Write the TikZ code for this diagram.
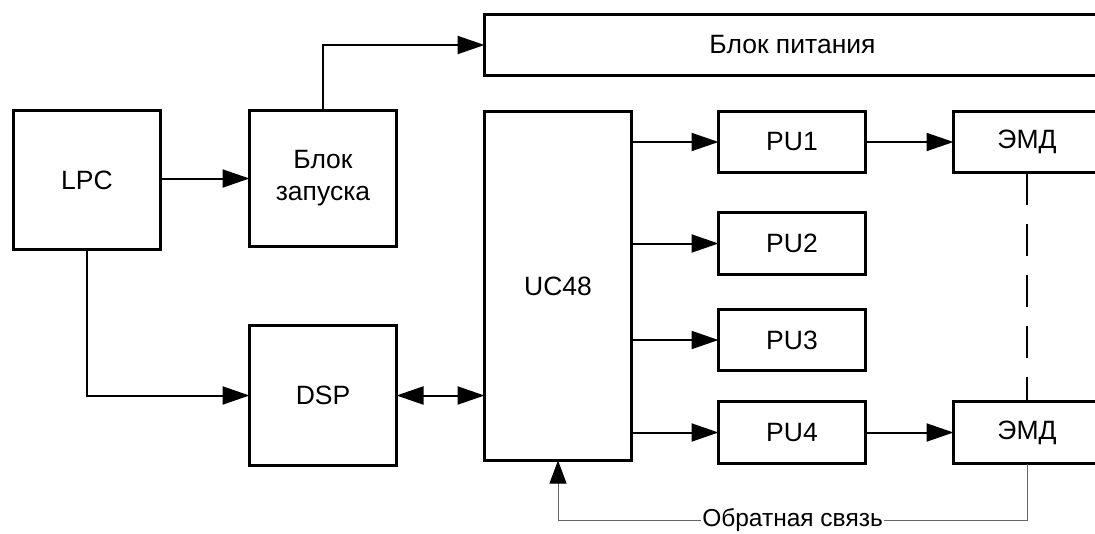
\documentclass[tikz,border=0pt]{standalone}
\usepackage{fontspec}
\setmainfont{Liberation Sans}
\usetikzlibrary{arrows.meta}
\begin{document}
\begin{tikzpicture}[x=1pt,y=-1pt,
  box/.style={draw,line width=3.2pt,inner sep=0pt,outer sep=0pt,align=center,
    font=\fontsize{26.5}{32}\selectfont},
  conn/.style={line width=2pt,-{Triangle[length=27pt,width=18pt]}},
  dconn/.style={line width=2pt,{Triangle[length=27pt,width=18pt]}-{Triangle[length=27pt,width=18pt]}},
  fb/.style={line width=1pt,draw=black!60,-{Triangle[length=23pt,width=17pt,color=black]}},
  fblabel/.style={fill=white,inner xsep=1pt,inner ysep=0pt,font=\fontsize{24.5}{28}\selectfont},
  dashline/.style={line width=2pt,dash pattern=on 32pt off 19pt}]
\useasboundingbox (0,0) rectangle (1095,533);
\clip (0,0) rectangle (1095,533);
\node[box,minimum width=147pt,minimum height=139pt] (LPC) at (87,180) {LPC};
\node[box,minimum width=147pt,minimum height=136pt] (Bzap) at (323,178.5) {Блок\\запуска};
\node[box,minimum width=616pt,minimum height=61pt] (Bpit) at (792.5,45) {Блок питания};
\node[box,minimum width=147pt,minimum height=349pt] (UC) at (558,286) {UC48};
\node[box,minimum width=147pt,minimum height=61pt] (PU1) at (792,142) {PU1};
\node[box,minimum width=147pt,minimum height=62pt] (PU2) at (792,243.5) {PU2};
\node[box,minimum width=147pt,minimum height=61pt] (PU3) at (792,340) {PU3};
\node[box,minimum width=147pt,minimum height=62pt] (PU4) at (792,432.5) {PU4};
\node[box,minimum width=147pt,minimum height=61pt] (E1) at (1027,142) {ЭМД};
\node[box,minimum width=147pt,minimum height=62pt] (E2) at (1027,432.5) {ЭМД};
\node[box,minimum width=147pt,minimum height=140pt] (DSP) at (323,395.5) {DSP};

\draw[conn] (LPC.east |- Bzap.west) -- (Bzap.west);
\draw[conn] (Bzap.north) |- (Bpit.west);
\draw[conn] (LPC.south) |- (DSP.west);
\draw[dconn] (DSP.east) -- (DSP.east -| UC.west);
\draw[conn] (UC.east |- PU1.west) -- (PU1.west);
\draw[conn] (UC.east |- PU2.west) -- (PU2.west);
\draw[conn] (UC.east |- PU3.west) -- (PU3.west);
\draw[conn] (UC.east |- PU4.west) -- (PU4.west);
\draw[conn] (PU1) -- (E1);
\draw[conn] (PU4) -- (E2);
\draw[dashline] (E1.south) -- (E2.north);
\draw[fb] (E2.south) -- ++(0,57) -| node[pos=0.25,fblabel] {Обратная связь} (UC.south);
\end{tikzpicture}
\end{document}
